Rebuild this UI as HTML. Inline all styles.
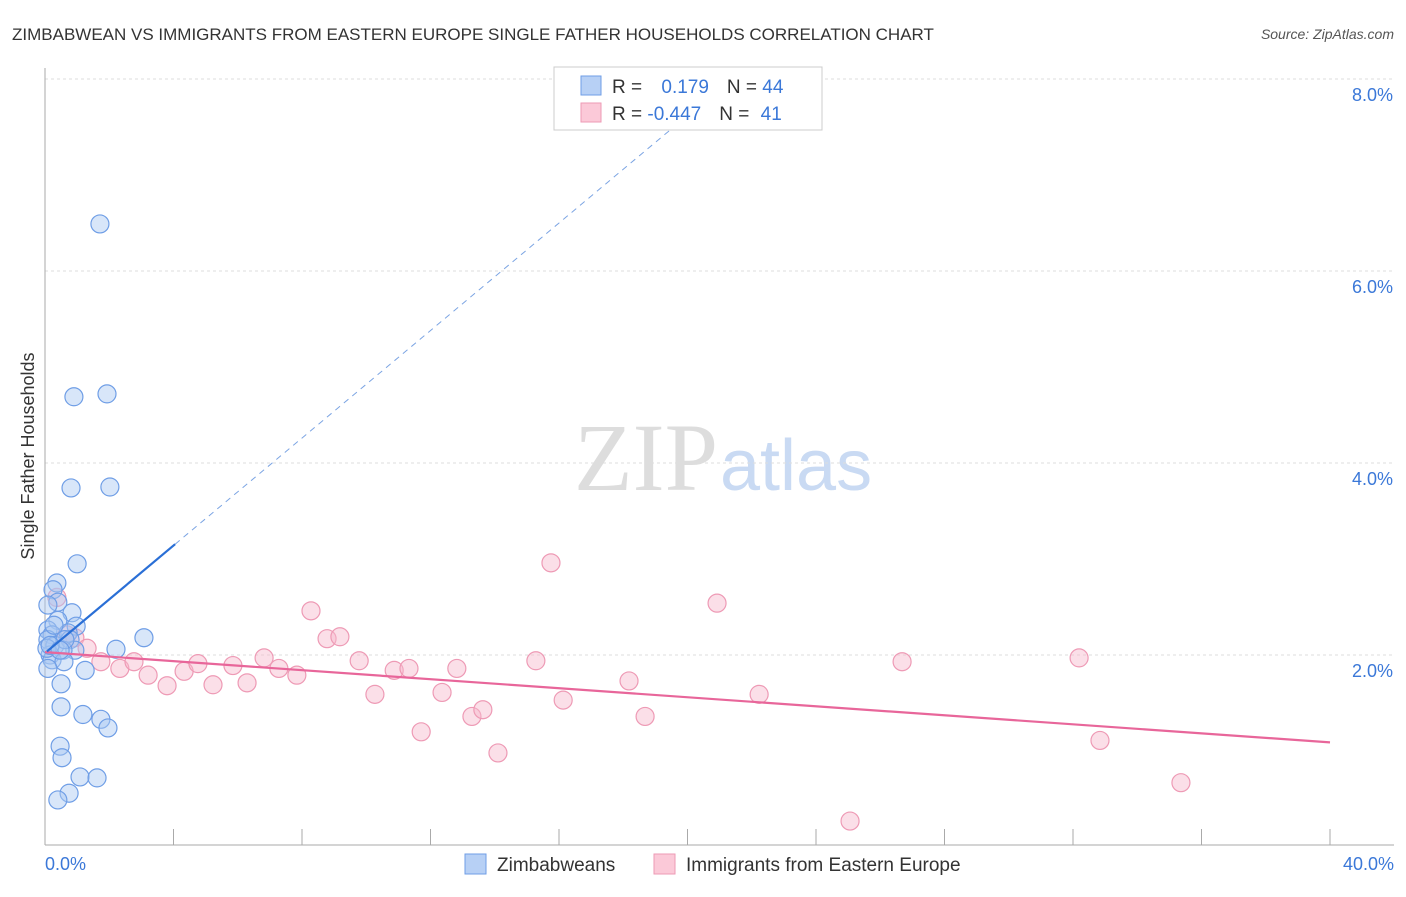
<!DOCTYPE html>
<html><head><meta charset="utf-8"><style>
body{margin:0;background:#fff;font-family:"Liberation Sans",sans-serif}
</style></head><body>
<svg width="1406" height="892" viewBox="0 0 1406 892" xmlns="http://www.w3.org/2000/svg" font-family="Liberation Sans, sans-serif">
<text x="12" y="40" font-size="17" fill="#333">ZIMBABWEAN VS IMMIGRANTS FROM EASTERN EUROPE SINGLE FATHER HOUSEHOLDS CORRELATION CHART</text>
<text x="1394" y="39" font-size="14" fill="#555" font-style="italic" text-anchor="end">Source: ZipAtlas.com</text>
<text x="718" y="490" font-size="96" fill="#ddd" font-family="Liberation Serif, serif" text-anchor="end">ZIP</text>
<text x="720" y="490" font-size="72" fill="#c9daf3">atlas</text>
<g id="grid"></g><g id="axes"></g><g id="marks"></g>
<text transform="translate(34,456) rotate(-90)" font-size="18" fill="#333" text-anchor="middle">Single Father Households</text>
<text x="45" y="870" font-size="18" fill="#3b78d8">0.0%</text>
<text x="1394" y="870" font-size="18" fill="#3b78d8" text-anchor="end">40.0%</text>
<g>
<rect x="554" y="67" width="268" height="63" fill="#fff" stroke="#ccc"/>
<rect x="581" y="76" width="20" height="19" fill="#b7d0f5" stroke="#6f9ee6"/>
<rect x="581" y="103" width="20" height="19" fill="#fbc9d8" stroke="#ee9ab5"/>
<text x="612" y="93" font-size="19" fill="#333">R = <tspan fill="#3b78d8" dx="14">0.179</tspan><tspan dx="18" fill="#333">N = </tspan><tspan fill="#3b78d8">44</tspan></text>
<text x="612" y="120" font-size="19" fill="#333">R = <tspan fill="#3b78d8">-0.447</tspan><tspan dx="18" fill="#333">N = </tspan><tspan fill="#3b78d8" dx="6">41</tspan></text>
</g>
<g>
<rect x="465" y="854" width="21" height="20" fill="#b7d0f5" stroke="#6f9ee6"/>
<text x="497" y="871" font-size="19" fill="#333">Zimbabweans</text>
<rect x="654" y="854" width="21" height="20" fill="#fbc9d8" stroke="#ee9ab5"/>
<text x="686" y="871" font-size="19" fill="#333">Immigrants from Eastern Europe</text>
</g>
</svg>
<script>
const yTicks=[2,4,6,8];
const yTickLabels=["2.0%","4.0%","6.0%","8.0%"];
const xTicks=[0,4,8,12,16,20,24,28,32,36,40];
const zimX=[1.71,1.93,0.90,0.81,2.02,1.00,0.37,0.25,0.40,0.09,0.84,0.40,0.09,0.22,0.97,0.72,0.09,0.31,0.78,0.93,0.56,0.16,0.22,0.59,0.09,1.25,2.21,3.08,0.50,0.50,1.18,1.74,1.96,0.47,0.53,1.09,1.62,0.75,0.40,0.06,0.62,0.28,0.16,0.47];
const zimY=[6.49,4.72,4.69,3.74,3.75,2.95,2.75,2.68,2.55,2.52,2.44,2.36,2.26,2.21,2.30,2.23,2.16,2.10,2.16,2.05,2.05,2.00,1.95,1.93,1.86,1.84,2.06,2.18,1.70,1.46,1.38,1.33,1.24,1.05,0.93,0.73,0.72,0.56,0.49,2.07,2.16,2.31,2.10,2.05];
const eeX=[0.37,0.68,0.93,1.31,1.74,2.33,2.77,3.21,3.80,4.33,4.76,5.23,5.85,6.29,6.82,7.28,7.84,8.28,8.78,9.18,9.78,10.27,10.87,11.33,11.71,12.36,12.82,13.29,13.63,14.10,15.28,15.75,16.13,18.18,18.68,20.92,22.23,25.06,26.68,32.19,32.84,35.36];
const eeY=[2.60,2.21,2.18,2.07,1.93,1.86,1.93,1.79,1.68,1.83,1.91,1.69,1.89,1.71,1.97,1.86,1.79,2.46,2.17,2.19,1.94,1.59,1.84,1.86,1.20,1.61,1.86,1.36,1.43,0.98,1.94,2.96,1.53,1.73,1.36,2.54,1.59,0.27,1.93,1.97,1.11,0.67];
const zimTrend=[2.02,0.28]; // intercept, slope
const eeTrend=[2.03,-0.0235];
const sx=v=>45+v/40*1285, sy=v=>847-v*96;
const NS="http://www.w3.org/2000/svg";
function mk(tag,attrs,parent){const e=document.createElementNS(NS,tag);for(const k in attrs)e.setAttribute(k,attrs[k]);document.getElementById(parent).appendChild(e);return e;}
yTicks.forEach((t,i)=>{
 const l=mk('line',{x1:45,x2:1394,y1:sy(t),y2:sy(t),stroke:'#ddd','stroke-dasharray':'3,3'},'grid');
 
 
 const tx=mk('text',{x:1393,y:sy(t)+22,'font-size':18,fill:'#3b78d8','text-anchor':'end'},'grid');
 tx.textContent=yTickLabels[i];
 
 
});
const ya=mk('line',{x1:45,x2:45,y1:68,y2:845,stroke:'#aaa'},'axes');


const xa=mk('line',{x1:45,x2:1394,y1:845,y2:845,stroke:'#aaa'},'axes');


xTicks.forEach(t=>{const l=mk('line',{x1:sx(t),x2:sx(t),y1:829,y2:845,stroke:'#aaa'},'axes');
 
 });
eeX.forEach((x,i)=>{const c=mk('circle',{cx:sx(x),cy:sy(eeY[i]),r:9,fill:'#f7b8cc',"fill-opacity":0.45,stroke:'#ee9ab5','stroke-width':1.2},'marks');
 
 });
zimX.forEach((x,i)=>{const c=mk('circle',{cx:sx(x),cy:sy(zimY[i]),r:9,fill:'#a9c7f2',"fill-opacity":0.45,stroke:'#6f9ee6','stroke-width':1.2},'marks');
 
 });
const pt=mk('line',{x1:sx(0),y1:sy(eeTrend[0]),x2:sx(40),y2:sy(eeTrend[0]+eeTrend[1]*40),stroke:'#e8669a','stroke-width':2.2},'marks');


const bt=mk('line',{x1:sx(0.06),y1:sy(zimTrend[0]+zimTrend[1]*0.06),x2:sx(4.05),y2:sy(zimTrend[0]+zimTrend[1]*4.05),stroke:'#2a6fd6','stroke-width':2.2},'marks');


const bd=mk('line',{x1:sx(4.05),y1:sy(zimTrend[0]+zimTrend[1]*4.05),x2:sx(19.5),y2:sy(zimTrend[0]+zimTrend[1]*19.5),stroke:'#7ba4e3','stroke-width':1,'stroke-dasharray':'6,5'},'marks');


</script>
</body></html>
